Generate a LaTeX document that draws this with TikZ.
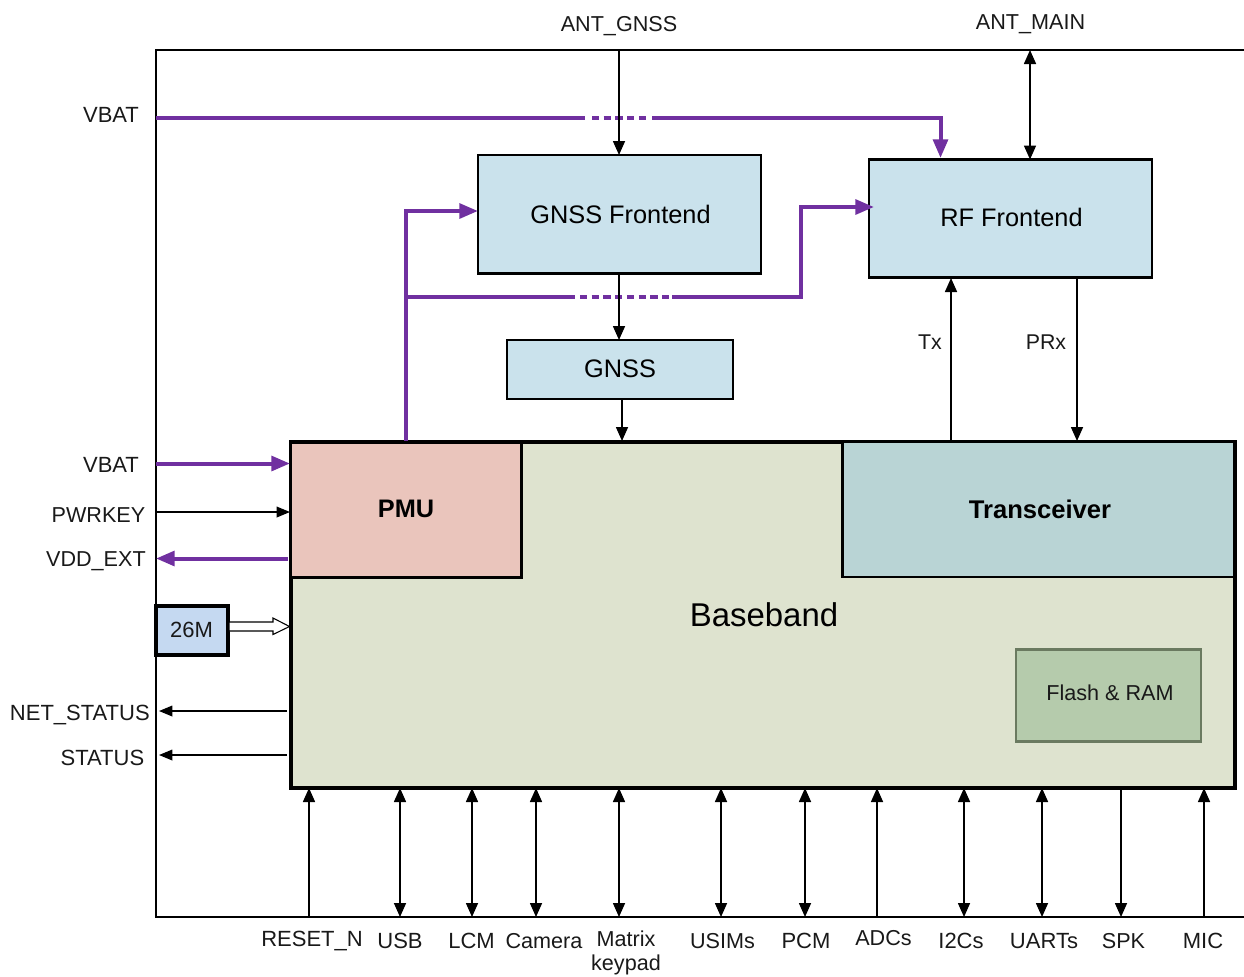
\documentclass[tikz,border=0pt]{standalone}
\usepackage{fontspec}
\setmainfont{Liberation Sans}
\usetikzlibrary{arrows.meta,calc}
\definecolor{purp}{HTML}{7030A0}
\definecolor{fe}{HTML}{CAE2EC}
\definecolor{bb}{HTML}{DEE3CF}
\definecolor{pm}{HTML}{EAC5BC}
\definecolor{tr}{HTML}{B9D4D5}
\definecolor{fl}{HTML}{B5CBAC}
\definecolor{flb}{HTML}{6A7A60}
\definecolor{xo}{HTML}{C5D9F1}
\tikzset{
  x=0.75pt,y=-0.75pt,
  lab/.style={font=\fontsize{16.5}{18}\selectfont,inner sep=0pt,text=black!90},
  labs/.style={font=\fontsize{16.2}{18}\selectfont,inner sep=0pt,text=black!90},
  blk/.style={draw=black,anchor=north west,inner sep=0pt,outer sep=0pt,font=\fontsize{19}{22}\selectfont},
  sig/.style={draw=black,line width=1.2pt,-{Triangle[length=10.5pt,width=9pt]}},
  bisig/.style={draw=black,line width=1.2pt,{Triangle[length=10.5pt,width=9pt]}-{Triangle[length=10.5pt,width=9pt]}},
  thinsig/.style={draw=black,line width=1pt,-{Triangle[length=10pt,width=8pt]}},
  pw/.style={draw=purp,line width=3pt},
  pwa/.style={pw,-{Triangle[length=14pt,width=11pt]}},
  pwd/.style={draw=purp,line width=3pt,dash pattern=on 5.4pt off 3.4pt},
}
\newcommand{\blockbox}[8]{\node[blk,fill=#6,draw=#8,line width=#7,minimum width=#4*0.75pt,minimum height=#5*0.75pt] (#1) at (#2,#3) {};}
\begin{document}
\begin{tikzpicture}
\useasboundingbox (0,0) rectangle (1244,976);
% frame
\draw[line width=1.5pt] (1244,50) -- (156,50) -- (156,917) -- (1244,917);
% blocks
\blockbox{bb}{290.5}{441.5}{944}{346}{bb}{3pt}{black}
\blockbox{pmu}{290.5}{442}{231}{135.5}{pm}{2.4pt}{black}
\blockbox{trx}{842.5}{442}{392}{135}{tr}{1.8pt}{black}
\blockbox{flash}{1016}{649.5}{185}{92}{fl}{1.6pt}{flb}
\blockbox{gfe}{478}{155}{283}{118.5}{fe}{1.6pt}{black}
\blockbox{rfe}{869}{159.5}{283}{118}{fe}{2.2pt}{black}
\blockbox{gnss}{507}{340}{226}{59}{fe}{1.6pt}{black}
\blockbox{xo}{156}{606}{72}{49}{xo}{2.35pt}{black}
\node[font=\fontsize{19}{22}\selectfont] at (620.5,214.5) {GNSS Frontend};
\node[font=\fontsize{19}{22}\selectfont] at (1011.5,217.5) {RF Frontend};
\node[font=\fontsize{19}{22}\selectfont] at (620,369) {GNSS};
\node[font=\bfseries\fontsize{19}{22}\selectfont] at (406,509) {PMU};
\node[font=\bfseries\fontsize{19.2}{22}\selectfont] at (1040,509) {Transceiver};
\node[font=\fontsize{24.7}{28}\selectfont] at (764,615) {Baseband};
\node[labs] at (1110,693) {Flash \& RAM};
\node[lab] at (191.5,630) {26M};
% free-end coordinates
\coordinate (cAntG) at (619,50);
\coordinate (cAntM) at (1030,50);
\coordinate (cV1) at (156,118);
\coordinate (cV1a) at (585,118);
\coordinate (cV1d) at (592,118);
\coordinate (cV1e) at (650,118);
\coordinate (cV1b) at (652,118);
\coordinate (cV2) at (156,463.5);
\coordinate (cPk) at (156,512);
\coordinate (cVd) at (156,558.5);
\coordinate (cNet) at (159,711);
\coordinate (cSta) at (159,755);
% top signals
\draw[pw] (cV1) -- (cV1a);
\draw[pwd] (cV1d) -- (cV1e);
\draw[pwa] (cV1b) -- (940.5,118) -- (940.5,158);
\draw[pwa] (406,441) -- (406,211) -- (478,211);
\draw[pw] (406,297) -- (575,297);
\draw[pwd] (580,297) -- (670,297);
\draw[pwa] (672,297) -- (801,297) -- (801,207) -- (874,207);
\draw[sig] (cAntG) -- (cAntG |- gfe.north);
\draw[sig] (gfe.south -| cAntG) -- (gnss.north -| cAntG);
\draw[sig] (622,399) -- (622,441);
\draw[bisig] (cAntM) -- (cAntM |- rfe.north);
\draw[sig] (951,441) -- (951,278);
\draw[sig] (1077,278) -- (1077,441);
\node[labs,font=\fontsize{16}{18}\selectfont] at (930,342) {Tx};
\node[labs,font=\fontsize{16}{18}\selectfont] at (1046,342) {PRx};
% power side
\draw[pwa] (cV2) -- (290,463.5);
\draw[thinsig] (cPk) -- (290,512);
\draw[pwa] (288,558.5) -- (cVd);
% xo arrow
\draw[line width=0.8pt,fill=white] (229,622) -- (273,622) -- (273,618) -- (289.5,626.5) -- (273,634.5) -- (273,631) -- (229,631) -- cycle;
% status
\draw[thinsig] (287,711) -- (cNet);
\draw[thinsig] (287,755) -- (cSta);
% bottom
\draw[sig] (309,917) -- (309,788);
\draw[bisig] (400,917) -- (400,788);
\draw[bisig] (472,917) -- (472,788);
\draw[bisig] (536,917) -- (536,788);
\draw[bisig] (619,917) -- (619,788);
\draw[bisig] (721,917) -- (721,788);
\draw[bisig] (805,917) -- (805,788);
\draw[sig] (877,917) -- (877,788);
\draw[bisig] (964,917) -- (964,788);
\draw[bisig] (1042,917) -- (1042,788);
\draw[sig] (1121,788) -- (1121,917);
\draw[sig] (1204,917) -- (1204,788);
% labels
\node[labs] at (619,26.5) {ANT\_GNSS};
\node[labs] at (1030.5,24.5) {ANT\_MAIN};
\node[lab] at (111,115) {VBAT};
\node[lab] at (111,465) {VBAT};
\node[labs,anchor=east] at (145.5,515) {PWRKEY};
\node[labs,anchor=east] at (146,561) {VDD\_EXT};
\node[lab,anchor=east] at (150,715) {NET\_STATUS};
\node[lab,anchor=east] at (144.5,758) {STATUS};
\node[lab] at (312,941) {RESET\_N};
\node[lab] at (400,941) {USB};
\node[lab] at (471.5,941) {LCM};
\node[labs] at (544,941) {Camera};
\node[labs] at (626,938.5) {Matrix};
\node[labs] at (626,965) {keypad};
\node[labs] at (722.5,941) {USIMs};
\node[lab] at (806,941) {PCM};
\node[labs] at (883.5,938.5) {ADCs};
\node[lab] at (961,941) {I2Cs};
\node[lab] at (1044,941) {UARTs};
\node[labs] at (1123.5,941) {SPK};
\node[lab] at (1203,941) {MIC};
\end{tikzpicture}
\end{document}
